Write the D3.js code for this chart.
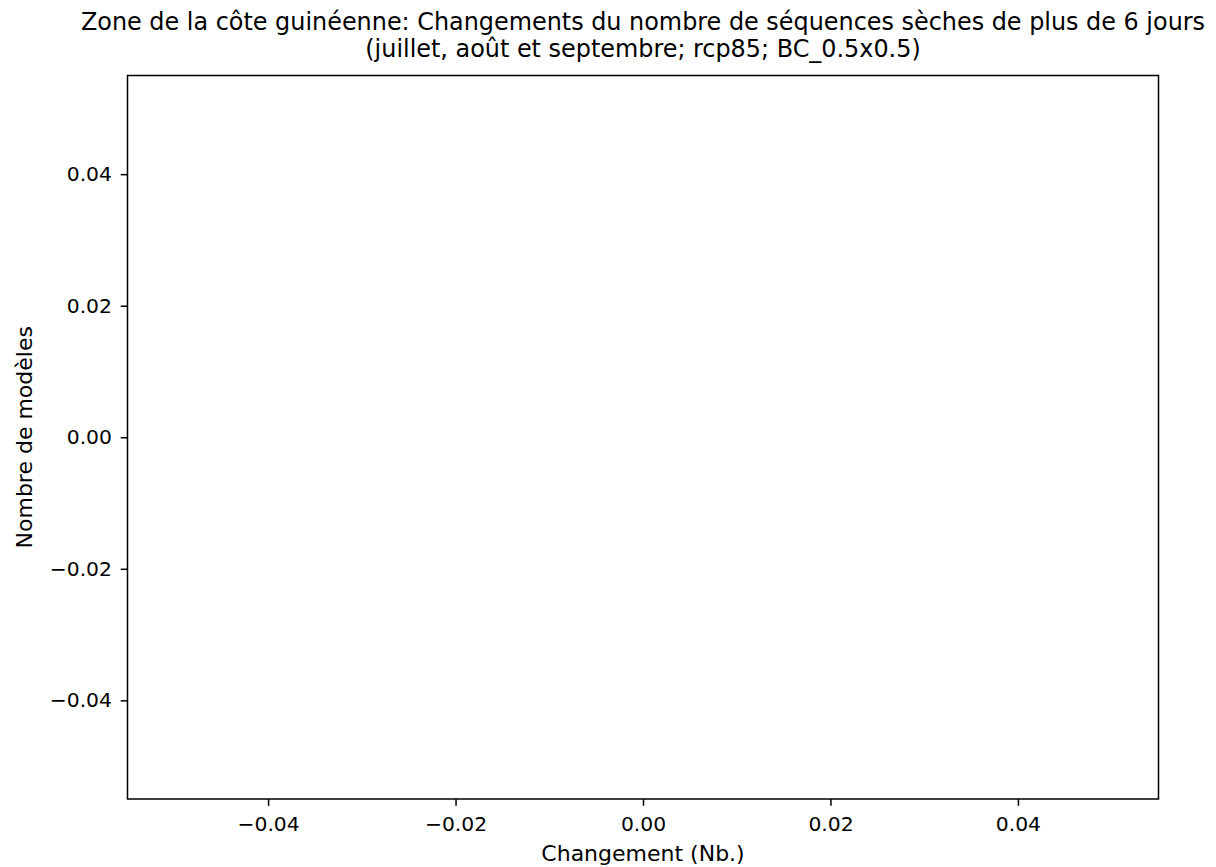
<!DOCTYPE html>
<html>
<head>
<meta charset="utf-8">
<script src="https://cdn.jsdelivr.net/npm/d3@7"></script>
<style>
  html, body { margin: 0; padding: 0; background: #fff; }
  svg { display: block; font-family: "DejaVu Sans", sans-serif; }
</style>
</head>
<body>
<svg id="chart" width="1216" height="867"></svg>
<script>
// Data (empty histogram: no models)
const titleLines = [
  "Zone de la côte guinéenne: Changements du nombre de séquences sèches de plus de 6 jours",
  "(juillet, août et septembre; rcp85; BC_0.5x0.5)"
];
const xLabel = "Changement (Nb.)";
const yLabel = "Nombre de modèles";
const xDomain = [-0.055, 0.055];
const yDomain = [-0.055, 0.055];
const xTicks = [-0.04, -0.02, 0.00, 0.02, 0.04];
const yTicks = [-0.04, -0.02, 0.00, 0.02, 0.04];
const values = [];

const m = { left: 127.5, right: 1158.5, top: 75.5, bottom: 799 };
const svg = d3.select("#chart");

const x = d3.scaleLinear().domain(xDomain).range([m.left, m.right]);
const y = d3.scaleLinear().domain(yDomain).range([m.bottom, m.top]);

const fmt = v => {
  const s = d3.format(".2f")(Math.abs(v) < 1e-12 ? 0 : v);
  return s.replace("-", "\u2212");
};

const tickFont = 20.3;
const labelFont = 22;
const titleFont = 23.9;
const tickLen = 6.8;

const xAxis = d3.axisBottom(x).tickValues(xTicks).tickFormat(fmt)
  .tickSizeInner(tickLen).tickSizeOuter(0).tickPadding(11);
const yAxis = d3.axisLeft(y).tickValues(yTicks).tickFormat(fmt)
  .tickSizeInner(tickLen).tickSizeOuter(0).tickPadding(8.8);

const gx = svg.append("g").attr("transform", `translate(0,${m.bottom})`).call(xAxis);
const gy = svg.append("g").attr("transform", `translate(${m.left},0)`).call(yAxis);

[gx, gy].forEach(g => {
  g.select(".domain").remove();
  g.selectAll(".tick line").attr("stroke", "#000").attr("stroke-width", 1.5);
  g.selectAll(".tick text").attr("fill", "#000")
    .style("font-family", "'DejaVu Sans', sans-serif")
    .style("font-size", tickFont + "px");
});

// bars (none)
svg.append("g").selectAll("rect").data(values).join("rect");

// frame
svg.append("rect")
  .attr("x", m.left).attr("y", m.top)
  .attr("width", m.right - m.left).attr("height", m.bottom - m.top)
  .attr("fill", "none").attr("stroke", "#000").attr("stroke-width", 1.5);

// title
const cx = (m.left + m.right) / 2;
svg.append("text").attr("x", cx).attr("y", 30).attr("text-anchor", "middle")
  .style("font-size", titleFont + "px").attr("fill", "#000").text(titleLines[0]);
svg.append("text").attr("x", cx).attr("y", 57).attr("text-anchor", "middle")
  .style("font-size", titleFont + "px").attr("fill", "#000").text(titleLines[1]);

// x label
svg.append("text").attr("x", cx).attr("y", 861).attr("text-anchor", "middle")
  .style("font-size", labelFont + "px").attr("fill", "#000").text(xLabel);

// y label
const cy = (m.top + m.bottom) / 2;
svg.append("text").attr("transform", `translate(32,${cy}) rotate(-90)`)
  .attr("text-anchor", "middle")
  .style("font-size", labelFont + "px").attr("fill", "#000").text(yLabel);
</script>
</body>
</html>
